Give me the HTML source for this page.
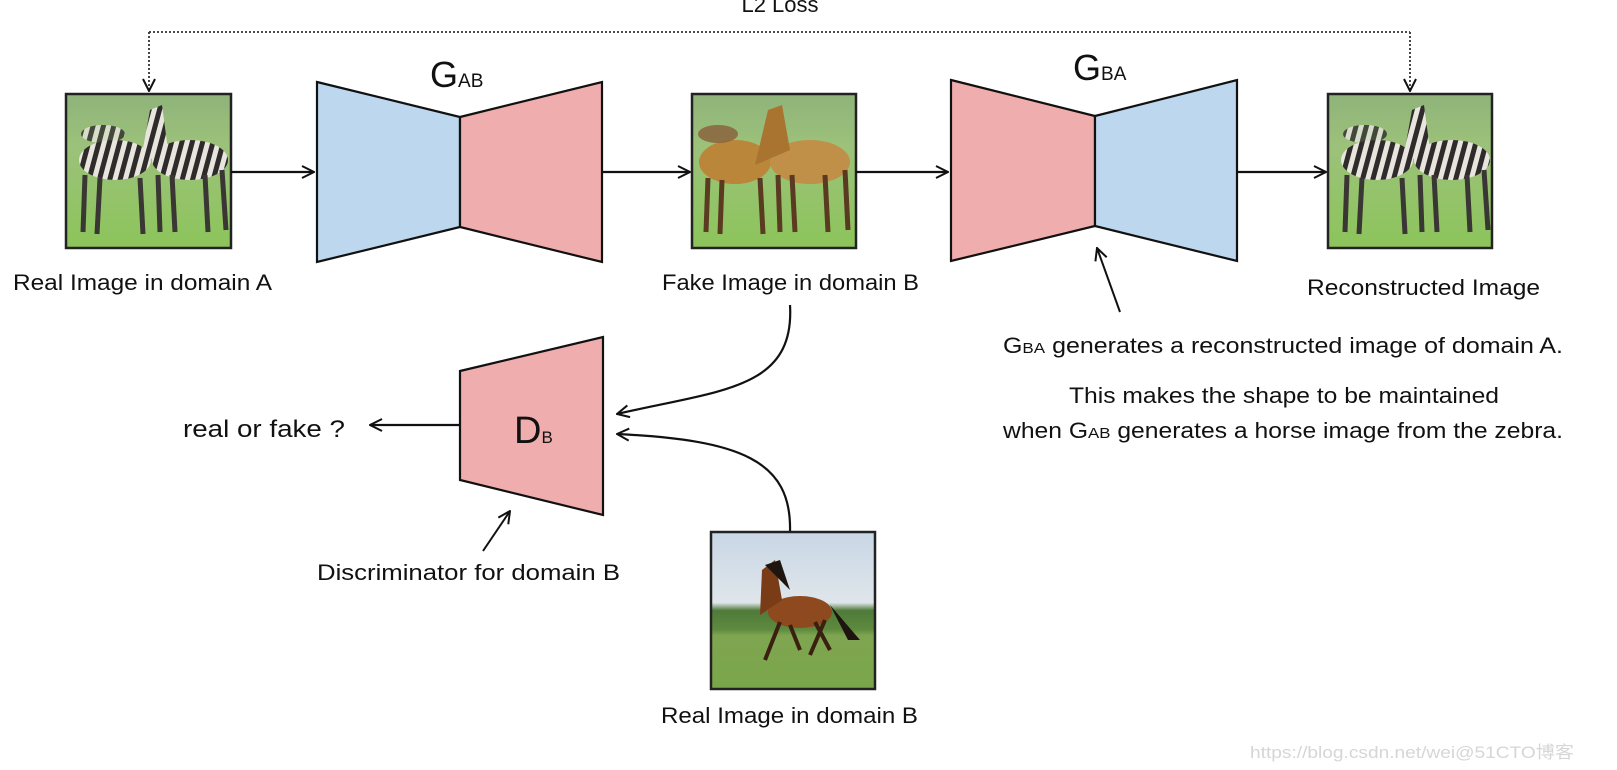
<!DOCTYPE html>
<html><head><meta charset="utf-8"><style>
html,body{margin:0;padding:0;background:#fff;}
svg{display:block;}
text{font-family:"Liberation Sans",sans-serif;fill:#111;}
</style></head><body>
<svg width="1617" height="770" viewBox="0 0 1617 770" xmlns="http://www.w3.org/2000/svg">
<defs>
<marker id="ar" viewBox="0 0 14 14" refX="13" refY="7" markerWidth="14" markerHeight="14" markerUnits="userSpaceOnUse" orient="auto">
<path d="M1,1 L13,7 L1,13" fill="none" stroke="#111" stroke-width="2"/>
</marker>
<linearGradient id="grass" x1="0" y1="0" x2="0" y2="1">
<stop offset="0" stop-color="#8fb37a"/><stop offset="0.35" stop-color="#9cc27a"/><stop offset="1" stop-color="#8cc45a"/>
</linearGradient>
<linearGradient id="hsky" x1="0" y1="0" x2="0" y2="1">
<stop offset="0" stop-color="#c9d6e6"/><stop offset="0.45" stop-color="#dfe6ea"/><stop offset="0.5" stop-color="#4f7a3a"/><stop offset="0.62" stop-color="#5d8a3e"/><stop offset="0.66" stop-color="#7fa550"/><stop offset="1" stop-color="#7aa64a"/>
</linearGradient>
<pattern id="zs" width="10" height="10" patternUnits="userSpaceOnUse" patternTransform="rotate(15)">
<rect width="10" height="10" fill="#e8e4de"/><rect width="5" height="10" fill="#2e2b2a"/>
</pattern>
</defs>

<text x="780" y="12" font-size="22" text-anchor="middle">L2 Loss</text>
<path d="M149,32 L1410,32" stroke="#333" stroke-width="1.8" stroke-dasharray="2,2" fill="none"/>
<path d="M149,32 L149,91" stroke="#333" stroke-width="1.8" stroke-dasharray="2,2" fill="none" marker-end="url(#ar)"/>
<path d="M1410,32 L1410,91" stroke="#333" stroke-width="1.8" stroke-dasharray="2,2" fill="none" marker-end="url(#ar)"/>

<g>
<rect x="66" y="94" width="165" height="154" fill="url(#grass)"/>
<ellipse cx="103" cy="134" rx="22" ry="9" fill="url(#zs)" opacity="0.8"/>
<ellipse cx="115" cy="160" rx="36" ry="20" fill="url(#zs)"/>
<ellipse cx="190" cy="160" rx="38" ry="20" fill="url(#zs)"/>
<path d="M140,165 L150,110 L162,105 L168,150 Z" fill="url(#zs)"/>
<g stroke="#3a3634" stroke-width="5"><path d="M85,175 L83,232 M100,178 L97,234 M140,178 L143,234 M158,175 L160,232 M172,175 L175,232 M205,175 L208,232 M222,170 L226,230"/></g>
<rect x="66" y="94" width="165" height="154" fill="none" stroke="#222" stroke-width="2.5"/>
</g>
<text x="13" y="290" font-size="22" textLength="259" lengthAdjust="spacingAndGlyphs">Real Image in domain A</text>

<path d="M231,172 L314,172" stroke="#111" stroke-width="2.2" marker-end="url(#ar)"/>

<polygon points="317,82 460,117 460,227 317,262" fill="#bdd7ee" stroke="#111" stroke-width="2.2"/>
<polygon points="460,117 602,82 602,262 460,227" fill="#f0adad" stroke="#111" stroke-width="2.2"/>
<text x="430" y="87" font-size="36">G<tspan font-size="19">AB</tspan></text>

<path d="M602,172 L690,172" stroke="#111" stroke-width="2.2" marker-end="url(#ar)"/>

<g>
<rect x="692" y="94" width="164" height="154" fill="url(#grass)"/>
<ellipse cx="735" cy="162" rx="36" ry="22" fill="#b9863a"/>
<ellipse cx="810" cy="162" rx="40" ry="22" fill="#c09048"/>
<path d="M755,165 L768,110 L782,105 L790,150 Z" fill="#a87430"/>
<ellipse cx="718" cy="134" rx="20" ry="9" fill="#8a5e3a" opacity="0.8"/>
<g stroke="#5a3a20" stroke-width="5"><path d="M708,178 L706,232 M722,180 L720,234 M760,178 L763,234 M778,175 L780,232 M792,175 L795,232 M825,175 L828,232 M845,170 L848,230"/></g>
<rect x="692" y="94" width="164" height="154" fill="none" stroke="#222" stroke-width="2.5"/>
</g>
<text x="662" y="290" font-size="22" textLength="257" lengthAdjust="spacingAndGlyphs">Fake Image in domain B</text>

<path d="M856,172 L948,172" stroke="#111" stroke-width="2.2" marker-end="url(#ar)"/>

<polygon points="951,80 1095,116 1095,226 951,261" fill="#f0adad" stroke="#111" stroke-width="2.2"/>
<polygon points="1095,116 1237,80 1237,261 1095,226" fill="#bdd7ee" stroke="#111" stroke-width="2.2"/>
<text x="1073" y="80" font-size="36">G<tspan font-size="19">BA</tspan></text>

<path d="M1237,172 L1326,172" stroke="#111" stroke-width="2.2" marker-end="url(#ar)"/>

<g>
<rect x="1328" y="94" width="164" height="154" fill="url(#grass)"/>
<ellipse cx="1365" cy="134" rx="22" ry="9" fill="url(#zs)" opacity="0.8"/>
<ellipse cx="1377" cy="160" rx="36" ry="20" fill="url(#zs)"/>
<ellipse cx="1452" cy="160" rx="38" ry="20" fill="url(#zs)"/>
<path d="M1402,165 L1412,110 L1424,105 L1430,150 Z" fill="url(#zs)"/>
<g stroke="#3a3634" stroke-width="5"><path d="M1347,175 L1345,232 M1362,178 L1359,234 M1402,178 L1405,234 M1420,175 L1422,232 M1434,175 L1437,232 M1467,175 L1470,232 M1484,170 L1488,230"/></g>
<rect x="1328" y="94" width="164" height="154" fill="none" stroke="#222" stroke-width="2.5"/>
</g>
<text x="1307" y="295" font-size="22" textLength="233" lengthAdjust="spacingAndGlyphs">Reconstructed Image</text>

<path d="M1120,312 L1097,248" stroke="#111" stroke-width="2" marker-end="url(#ar)"/>

<text x="1003" y="353" font-size="22" textLength="560" lengthAdjust="spacingAndGlyphs">G<tspan font-size="15">BA</tspan> generates a reconstructed image of domain A.</text>
<text x="1069" y="403" font-size="22" textLength="430" lengthAdjust="spacingAndGlyphs">This makes the shape to be maintained</text>
<text x="1003" y="438" font-size="22" textLength="560" lengthAdjust="spacingAndGlyphs">when G<tspan font-size="15">AB</tspan> generates a horse image from the zebra.</text>

<polygon points="460,371 603,337 603,515 460,480" fill="#f0adad" stroke="#111" stroke-width="2.2"/>
<text x="514" y="443" font-size="38">D<tspan font-size="17">B</tspan></text>
<path d="M460,425 L370,425" stroke="#111" stroke-width="2.2" marker-end="url(#ar)"/>
<text x="183" y="437" font-size="24" textLength="162" lengthAdjust="spacingAndGlyphs">real or fake ?</text>

<path d="M790,305 C795,390 720,390 617,414" fill="none" stroke="#111" stroke-width="2.2" marker-end="url(#ar)"/>
<path d="M790,532 C792,460 740,440 617,434" fill="none" stroke="#111" stroke-width="2.2" marker-end="url(#ar)"/>

<path d="M483,551 L510,511" stroke="#111" stroke-width="2" marker-end="url(#ar)"/>
<text x="317" y="580" font-size="22" textLength="303" lengthAdjust="spacingAndGlyphs">Discriminator for domain B</text>

<g>
<rect x="711" y="532" width="164" height="157" fill="url(#hsky)"/>
<ellipse cx="800" cy="612" rx="32" ry="16" fill="#8e4a1e"/>
<path d="M760,615 L762,570 L775,560 L782,600 Z" fill="#7a3c16"/>
<path d="M765,565 L780,560 L790,590 Z" fill="#1e1410"/>
<path d="M830,605 L848,640 L860,640 Z" fill="#1e1410"/>
<g stroke="#3a2010" stroke-width="4"><path d="M780,622 L765,660 M790,625 L800,650 M815,622 L830,650 M825,620 L810,655"/></g>
<rect x="711" y="532" width="164" height="157" fill="none" stroke="#222" stroke-width="2.5"/>
</g>
<text x="661" y="723" font-size="22" textLength="257" lengthAdjust="spacingAndGlyphs">Real Image in domain B</text>

<text x="1250" y="758" font-size="17" style="fill:#d6d6d6" textLength="324" lengthAdjust="spacingAndGlyphs">https://blog.csdn.net/wei@51CTO博客</text>
</svg>
</body></html>
